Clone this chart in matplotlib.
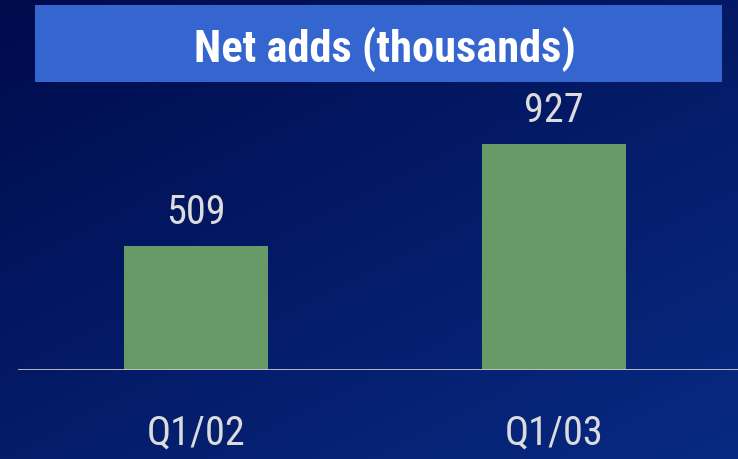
import matplotlib
matplotlib.use("Agg")
import matplotlib.pyplot as plt
import numpy as np

categories = ["Q1/02", "Q1/03"]
values = [509, 927]
title = "Net adds (thousands)"

FONT = ["Roboto Condensed", "DejaVu Sans"]

W, H = 738, 459
fig = plt.figure(figsize=(W / 100, H / 100), dpi=100)

# background gradient
bg = fig.add_axes([0, 0, 1, 1])
yy, xx = np.mgrid[0:1:200j, 0:1:300j]
t = np.clip(0.55 * yy + 0.45 * xx, 0, 1)
c0 = np.array([0x00, 0x0b, 0x4c]) / 255
c1 = np.array([0x08, 0x2a, 0x82]) / 255
img = c0[None, None, :] * (1 - t[..., None]) + c1[None, None, :] * t[..., None]
bg.imshow(img, extent=[0, 1, 0, 1], aspect="auto", origin="upper")
bg.set_axis_off()

# title box
bg.add_patch(plt.Rectangle((35 / W, 1 - 82 / H), (722 - 35) / W, (82 - 5) / H,
                           facecolor="#3566cf", edgecolor="none", transform=bg.transAxes))
bg.text(385 / W, 1 - 62 / H, title, transform=bg.transAxes,
        ha="center", va="baseline", color="white", fontsize=32, fontweight="bold",
        family=FONT)

# chart axes
px_per_unit = 124 / 509
ax_bottom = 89
ax_top = 100
ax_h = H - ax_top - ax_bottom
ax = fig.add_axes([18 / W, ax_bottom / H, (W - 18) / W, ax_h / H])
ax.set_facecolor("none")
ax.set_ylim(0, ax_h / px_per_unit)
x = np.arange(len(categories))
ax.set_xlim(-(196 - 18) / 358, 1 + (738 - 554) / 358)
ax.bar(x, values, width=144 / 358, color="#679a66", zorder=2)
ax.axhline(0, color="#c8c8c8", lw=2, zorder=3)
for xi, v in zip(x, values):
    ax.annotate(str(v), (xi, v), xytext=(0, 22), textcoords="offset pixels",
                ha="center", va="baseline", color="#dcdcdc", fontsize=29,
                family=FONT)
ax.set_xticks(x)
ax.set_xticklabels(categories, color="#dcdcdc", fontsize=29, family=FONT)
ax.tick_params(axis="x", length=0, pad=31)
ax.set_yticks([])
for s in ax.spines.values():
    s.set_visible(False)

fig.savefig("out.png", dpi=100)
